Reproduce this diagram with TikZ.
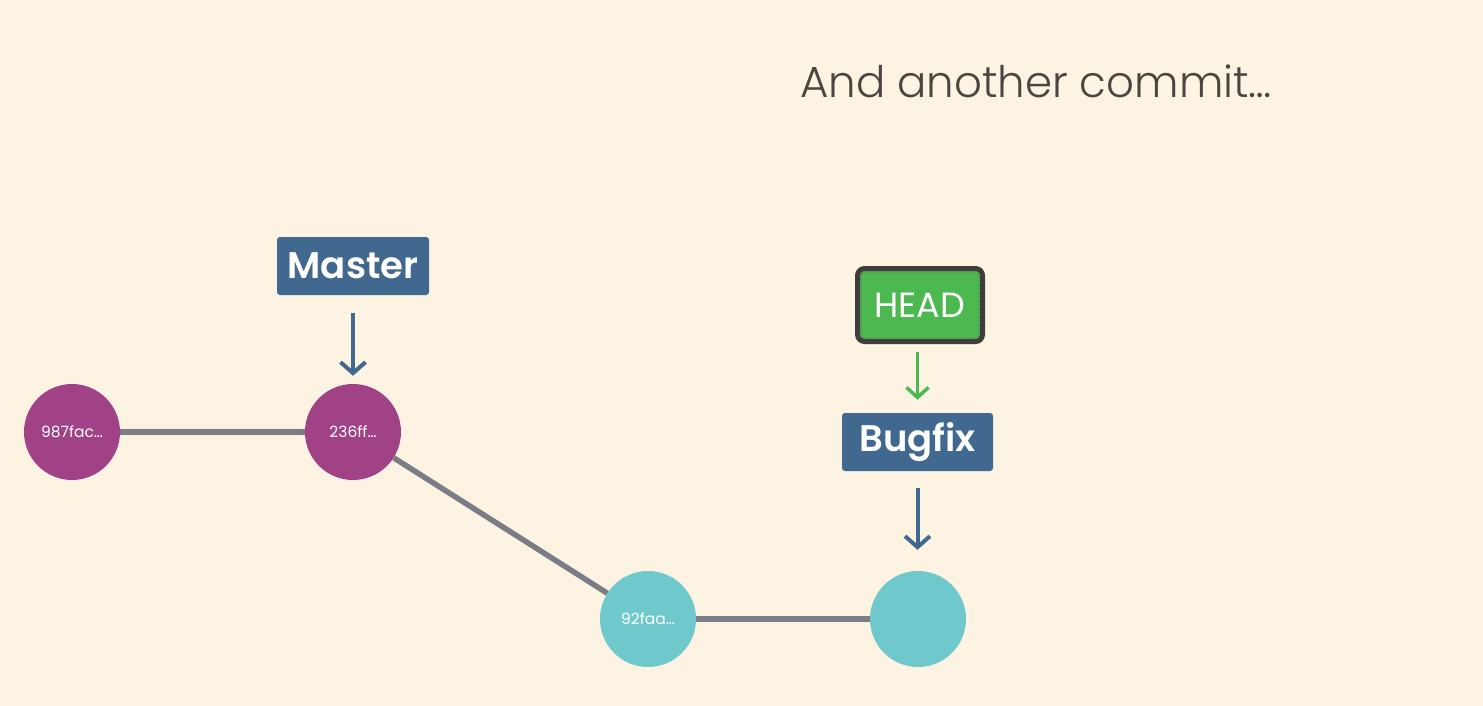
\documentclass[tikz,border=0pt]{standalone}
\usepackage{fontspec}
\setmainfont{Poppins}[BoldFont={Poppins SemiBold}]
\newfontfamily\poplight{Poppins Light}
\usetikzlibrary{arrows.meta}
\definecolor{bg}{HTML}{FDF3E2}
\definecolor{purp}{HTML}{A14287}
\definecolor{teal}{HTML}{6FC9CC}
\definecolor{edgegray}{HTML}{7A7D85}
\definecolor{blu}{HTML}{41688F}
\definecolor{grn}{HTML}{4CB850}
\definecolor{dark}{HTML}{3E3E3E}
\definecolor{titlec}{HTML}{4A4540}
\tikzset{
  commit/.style={circle, minimum size=96pt, inner sep=0pt, text=white, font=\fontsize{15.5}{17}\selectfont},
  branch/.style={rounded corners=3pt, fill=blu, text=white, inner sep=0pt, font=\fontsize{37}{40}\selectfont\bfseries},
  edge/.style={draw=edgegray, line width=5.5pt},
  ptr/.style={draw=blu, line width=4pt, -{Straight Barb[length=11pt,width=25pt,line width=4pt]}},
  gptr/.style={draw=grn, line width=3.5pt, -{Straight Barb[length=10pt,width=22pt,line width=3.5pt]}},
}
\begin{document}
\begin{tikzpicture}[x=1pt,y=-1pt]
\path[fill=bg,use as bounding box] (0,0) rectangle (1483,706);
\node[anchor=base west, text=titlec, font=\poplight\fontsize{43.5}{50}\selectfont, inner sep=0pt] (title) at (800,98) {And another commit\dots};

\node[commit, fill=purp] (c1) at (72,432) {987fac\dots};
\node[commit, fill=purp] (c2) at (353,432) {236ff\dots};
\node[commit, fill=teal] (c3) at (648,619) {92faa\dots};
\node[commit, fill=teal] (c4) at (918,619) {};

\draw[edge] (c1) -- (c2);
\draw[edge] (c2) -- (c3);
\draw[edge] (c3) -- (c4);

\node[branch, minimum width=152pt, minimum height=58pt] (master) at (353,266) {Master};
\node[branch, minimum width=151pt, minimum height=58pt] (bugfix) at (917.5,442) {Bugfix};
\node[rounded corners=7pt, fill=grn, draw=dark, line width=5pt, minimum width=125pt, minimum height=73pt, inner sep=0pt, text=white, font=\fontsize{35}{40}\selectfont] (head) at (920,305) {HEAD};
\draw[dark!80, line width=0.8pt, dash pattern=on 2pt off 2pt, rounded corners=2pt]
  ([xshift=6pt,yshift=-6pt]head.north west) rectangle ([xshift=-6pt,yshift=6pt]head.south east);

\draw[ptr, shorten <=18pt, shorten >=8pt] (master.south) -- (c2.north);
\draw[gptr, shorten <=8pt, shorten >=13pt] (head.south -| bugfix.north) -- (bugfix.north);
\draw[ptr, shorten <=17pt, shorten >=21pt] (bugfix.south) -- (bugfix.south |- c4.north);
\end{tikzpicture}
\end{document}
